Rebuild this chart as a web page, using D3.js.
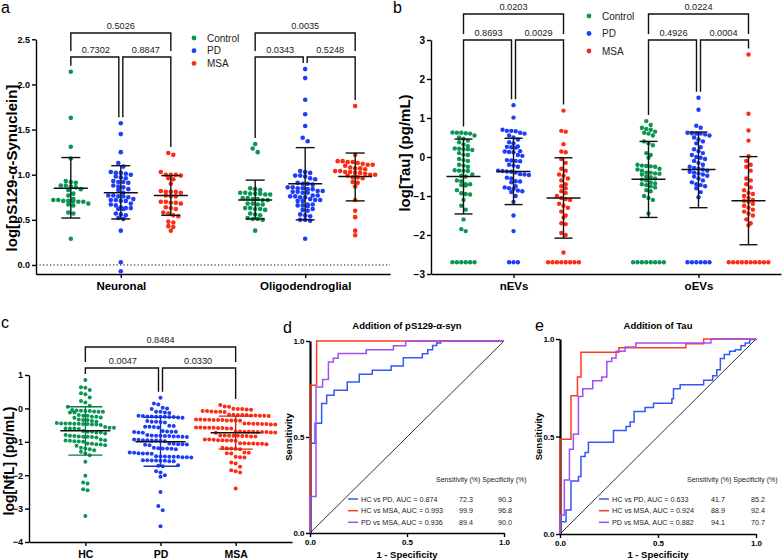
<!DOCTYPE html>
<html><head><meta charset="utf-8">
<script src="https://cdn.jsdelivr.net/npm/d3@7"></script>
<style>body{margin:0;background:#fff}svg{display:block}text{font-family:"Liberation Sans",Arial,Helvetica,sans-serif}</style>
</head><body><svg id="chart" width="784" height="560"></svg>
<script>
// ---------------- DATA ----------------
const groupNames = ["Control", "PD", "MSA"];
const groupColors = ["#0c9653", "#1d3df6", "#fd2c12"];

// Panel a: log[pS129-α-Synuclein]
const aCategories = ["Neuronal", "Oligodendroglial"];
const aNeuronalControl = [2.14,1.63,1.31,1.18,0.93,0.92,0.91,0.88,0.87,0.88,0.86,0.84,0.83,0.79,0.77,0.73,0.72,0.71,0.70,0.71,0.72,0.70,0.71,0.67,0.66,0.68,0.58,0.57,0.29];
const aNeuronalPD = [1.57,1.45,1.25,1.13,1.09,1.03,1.02,1.00,1.01,1.02,0.97,0.96,0.98,0.92,0.93,0.91,0.92,0.87,0.88,0.86,0.83,0.84,0.80,0.76,0.77,0.75,0.76,0.77,0.72,0.71,0.73,0.72,0.71,0.67,0.68,0.66,0.63,0.62,0.64,0.63,0.62,0.56,0.55,0.57,0.52,0.51,0.38,0.03,-0.07];
const aNeuronalMSA = [1.24,1.22,1.03,1.00,1.00,1.00,0.99,0.96,0.95,0.90,0.81,0.82,0.81,0.80,0.81,0.77,0.76,0.76,0.70,0.69,0.68,0.69,0.70,0.63,0.62,0.64,0.57,0.58,0.54,0.55,0.48,0.47,0.42,0.43,0.38];
const aOligoControl = [1.34,1.29,1.25,0.85,0.84,0.83,0.80,0.79,0.79,0.78,0.80,0.79,0.78,0.74,0.73,0.72,0.73,0.74,0.72,0.68,0.67,0.68,0.67,0.62,0.63,0.62,0.61,0.63,0.57,0.56,0.55,0.51,0.50,0.51,0.52,0.38];
const aOligoPD = [2.17,2.07,1.83,1.67,1.54,1.41,1.37,1.03,1.02,1.04,0.99,0.99,0.98,0.95,0.96,0.90,0.91,0.89,0.90,0.85,0.86,0.84,0.85,0.86,0.84,0.81,0.80,0.82,0.81,0.80,0.82,0.76,0.77,0.75,0.76,0.77,0.75,0.72,0.71,0.72,0.73,0.71,0.66,0.67,0.65,0.66,0.67,0.61,0.60,0.62,0.55,0.56,0.54,0.50,0.49,0.50,0.29];
const aOligoMSA = [1.76,1.22,1.15,1.14,1.14,1.13,1.15,1.11,1.10,1.12,1.11,1.07,1.06,1.08,1.07,1.03,1.04,1.02,1.03,1.04,1.02,1.00,0.99,1.00,1.01,0.97,0.96,0.97,0.92,0.91,0.87,0.72,0.60,0.53,0.38,0.33];
const aMean  = [[0.85,0.80,0.77],[0.72,0.90,0.98]];
const aUpper = [[1.19,1.10,0.99],[0.94,1.30,1.24]];
const aLower = [[0.52,0.51,0.55],[0.51,0.50,0.71]];
const aPValues = [["0.5026","0.7302","0.8847"],["0.0035","0.0343","0.5248"]];
const aTicks = [0,0.5,1,1.5,2,2.5];

// Panel b: log[Tau]
const bCategories = ["nEVs", "oEVs"];
const bNControl = [0.62,0.63,0.61,0.60,0.62,0.55,0.50,0.47,0.42,0.38,0.32,0.28,0.22,0.20,0.18,0.20,0.21,0.10,0.05,0.06,-0.05,-0.10,-0.08,-0.20,-0.22,-0.25,-0.35,-0.36,-0.34,-0.35,-0.45,-0.50,-0.48,-0.60,-0.62,-0.70,-0.72,-0.70,-0.73,-0.85,-0.95,-0.93,-0.96,-1.10,-1.25,-1.35,-1.60,-1.85,-1.90,-2.7,-2.7,-2.7,-2.7,-2.7,-2.7];
const bNPD = [1.33,1.01,0.70,0.67,0.66,0.67,0.60,0.62,0.55,0.50,0.45,0.38,0.35,0.27,0.25,0.26,0.24,0.15,0.13,0.14,0.12,0.05,0.03,-0.08,-0.10,-0.09,-0.11,-0.20,-0.25,-0.22,-0.35,-0.37,-0.38,-0.36,-0.40,-0.45,-0.46,-0.44,-0.55,-0.53,-0.62,-0.65,-0.63,-0.75,-0.80,-0.82,-0.78,-0.88,-0.86,-0.90,-1.00,-1.15,-1.50,-1.90,-2.7,-2.7,-2.7];
const bNMSA = [1.19,0.67,0.65,0.33,0.14,0.12,-0.05,-0.15,-0.30,-0.35,-0.45,-0.48,-0.55,-0.60,-0.70,-0.75,-0.80,-0.88,-0.92,-1.00,-1.05,-1.08,-1.10,-1.20,-1.25,-1.30,-1.40,-1.50,-1.55,-1.70,-1.72,-1.95,-2.00,-2.45,-2.7,-2.7,-2.7,-2.7,-2.7,-2.7,-2.7,-2.7];
const bOControl = [0.92,0.82,0.75,0.72,0.70,0.65,0.62,0.60,0.55,0.40,0.35,0.30,0.10,0.05,-0.02,-0.20,-0.22,-0.25,-0.24,-0.23,-0.30,-0.32,-0.35,-0.40,-0.42,-0.40,-0.45,-0.43,-0.50,-0.52,-0.55,-0.58,-0.60,-0.65,-0.68,-0.70,-0.72,-0.75,-0.78,-0.85,-0.88,-1.00,-1.05,-1.10,-1.45,-2.7,-2.7,-2.7,-2.7,-2.7,-2.7,-2.7,-2.7];
const bOPD = [1.52,1.21,0.80,0.75,0.62,0.60,0.61,0.60,0.58,0.55,0.50,0.45,0.40,0.35,0.25,0.20,0.15,0.10,0.05,0.00,-0.02,-0.05,-0.10,-0.15,-0.20,-0.25,-0.28,-0.30,-0.32,-0.35,-0.38,-0.40,-0.42,-0.45,-0.48,-0.50,-0.55,-0.60,-0.65,-0.70,-0.72,-0.75,-0.80,-0.90,-1.03,-2.7,-2.7,-2.7,-2.7,-2.7,-2.7];
const bOMSA = [2.63,1.11,0.68,0.42,0.02,-0.10,-0.20,-0.25,-0.35,-0.55,-0.60,-0.70,-0.78,-0.85,-0.92,-0.95,-1.00,-1.05,-1.10,-1.12,-1.15,-1.20,-1.25,-1.30,-1.35,-1.40,-1.45,-1.50,-1.60,-1.70,-1.75,-2.7,-2.7,-2.7,-2.7,-2.7,-2.7,-2.7,-2.7,-2.7,-2.7];
const bMean  = [[-0.50,-0.37,-1.05],[-0.57,-0.32,-1.12]];
const bUpper = [[0.46,0.48,-0.02],[0.40,0.64,0.01]];
const bLower = [[-1.46,-1.22,-2.08],[-1.55,-1.30,-2.25]];
const bPValues = [["0.0203","0.8693","0.0029"],["0.0224","0.4926","0.0004"]];
const bTicks = [-3,-2,-1,0,1,2,3];

// Panel c: log[NfL]
const cCategories = ["HC", "PD", "MSA"];
const cHC = [0.85,0.63,0.62,0.55,0.45,0.42,0.33,0.22,0.18,0.08,0.05,
  -0.05,-0.06,-0.08,-0.08,-0.10,-0.10,-0.12,-0.12,-0.07,-0.09,
  -0.20,-0.22,-0.22,-0.25,-0.25,-0.27,-0.28,
  -0.33,-0.35,-0.35,-0.38,-0.40,
  -0.44,-0.45,-0.45,-0.46,-0.47,-0.48,-0.48,-0.50,-0.45,-0.46,-0.47,
  -0.56,-0.58,-0.60,-0.60,-0.62,-0.58,-0.60,
  -0.68,-0.70,-0.72,-0.72,-0.75,-0.70,
  -0.80,-0.82,-0.84,-0.85,-0.86,-0.83,-0.87,-0.85,
  -0.93,-0.95,-0.97,-1.00,-0.98,-0.96,-0.99,
  -1.05,-1.07,-1.10,-1.08,-1.12,-1.06,
  -1.18,-1.20,-1.22,-1.25,
  -1.30,-1.35,-1.40,-1.60,-2.02,-2.22,-2.25,-2.42,-2.45,-3.22];
const cPD = [0.32,0.15,0.12,0.02,0.00,-0.02,-0.10,-0.12,-0.10,-0.14,
  -0.22,-0.24,-0.25,-0.25,-0.26,-0.27,-0.23,-0.28,-0.25,-0.24,-0.26,
  -0.38,-0.40,-0.42,-0.40,-0.41,
  -0.52,-0.55,-0.55,-0.57,-0.53,-0.56,
  -0.68,-0.70,-0.70,-0.72,-0.69,-0.71,-0.73,
  -0.80,-0.82,-0.83,-0.83,-0.84,-0.85,-0.81,-0.86,-0.82,-0.84,
  -0.93,-0.95,-0.96,-0.97,-0.94,-0.98,-0.95,-0.96,
  -1.05,-1.07,-1.08,-1.06,-1.09,-1.07,-1.10,
  -1.18,-1.20,-1.21,-1.22,-1.19,-1.20,
  -1.32,-1.34,-1.35,-1.36,-1.33,-1.35,
  -1.43,-1.45,-1.46,-1.45,-1.44,-1.47,-1.45,-1.46,-1.44,
  -1.55,-1.56,-1.57,-1.58,-1.55,-1.57,-1.56,-1.58,
  -1.70,-1.72,-1.73,-1.88,-1.92,-2.00,-2.05,-2.50,-2.92,-3.05,-3.53];
const cMSA = [0.10,0.05,0.06,-0.02,-0.03,-0.01,-0.04,-0.02,
  -0.08,-0.10,-0.09,-0.11,-0.08,-0.10,
  -0.19,-0.20,-0.21,-0.22,-0.20,-0.19,-0.21,-0.23,-0.20,-0.22,
  -0.33,-0.35,-0.36,-0.34,-0.35,-0.37,-0.33,-0.36,-0.34,-0.35,-0.36,
  -0.45,-0.47,-0.46,-0.48,-0.45,-0.47,-0.46,-0.48,
  -0.57,-0.58,-0.60,-0.59,-0.58,-0.60,-0.57,-0.59,-0.58,
  -0.69,-0.70,-0.71,-0.72,-0.70,-0.69,-0.71,-0.72,-0.70,-0.71,-0.73,
  -0.81,-0.82,-0.83,-0.84,-0.82,-0.81,-0.83,-0.84,-0.82,
  -0.93,-0.95,-0.96,-0.94,-0.95,-0.97,-0.93,-0.96,
  -1.04,-1.05,-1.06,-1.07,-1.05,-1.06,-1.04,
  -1.18,-1.20,-1.21,-1.19,-1.22,
  -1.32,-1.33,-1.35,-1.34,-1.45,-1.47,-1.46,
  -1.62,-1.65,-1.75,-1.85,-1.88,-1.92,-2.40];
const cMean  = [-0.67,-1.00,-0.73];
const cUpper = [0.05,-0.27,-0.23];
const cLower = [-1.40,-1.73,-1.22];
const cPValues = ["0.8484","0.0047","0.0330"];
const cTicks = [-4,-3,-2,-1,0,1];

// Panels d & e: ROC operating points [1 - specificity, sensitivity]
const rocNames = ["HC vs PD", "HC vs MSA", "PD vs MSA"];
const rocColors = ["#3557f5", "#ff3a22", "#a24ff2"];
const dAUC = ["0.874","0.993","0.936"];
const dSens = ["72.3","99.9","89.4"];
const dSpec = ["90.3","96.8","90.0"];
const dHCvsPD = [[0,0],[0,0.467],[0.026,0.571],[0.06,0.675],[0.086,0.718],[0.124,0.744],[0.192,0.787],[0.254,0.827],[0.321,0.848],[0.418,0.87],[0.481,0.913],[0.579,0.934],[0.607,0.955],[0.632,0.976],[0.653,0.99],[0.674,1],[1,1]];
const dHCvsMSA = [[0,0],[0,0.77],[0.034,1],[1,1]];
const dPDvsMSA = [[0,0],[0,0.19],[0.031,0.76],[0.065,0.8],[0.095,0.89],[0.12,0.91],[0.145,0.935],[0.29,0.955],[0.43,0.975],[0.493,1],[1,1]];
const eAUC = ["0.633","0.924","0.882"];
const eSens = ["41.7","88.9","94.1"];
const eSpec = ["85.2","92.4","70.7"];
const eHCvsPD = [[0,0],[0,0.063],[0.031,0.123],[0.056,0.272],[0.094,0.295],[0.107,0.397],[0.128,0.418],[0.145,0.47],[0.273,0.531],[0.337,0.551],[0.358,0.574],[0.378,0.628],[0.434,0.649],[0.477,0.671],[0.571,0.693],[0.579,0.745],[0.613,0.765],[0.733,0.788],[0.779,0.812],[0.8,0.842],[0.818,0.9],[0.838,0.92],[0.865,0.937],[0.894,0.945],[0.923,0.966],[0.945,0.979],[0.968,0.997],[1,1]];
const eHCvsMSA = [[0,0],[0,0.486],[0.056,0.709],[0.089,0.805],[0.107,0.932],[0.3,0.955],[0.642,0.976],[0.733,1],[1,1]];
const ePDvsMSA = [[0,0],[0,0.098],[0.022,0.277],[0.048,0.435],[0.068,0.512],[0.094,0.705],[0.116,0.745],[0.167,0.786],[0.213,0.805],[0.239,0.885],[0.264,0.902],[0.286,0.937],[0.332,0.959],[0.387,0.979],[0.77,1],[1,1]];

// ---------------- DRAWING ----------------
const svg = d3.select("#chart");
svg.append("rect").attr("width",784).attr("height",560).attr("fill","#fff");

function rowLayout(values, y, binH, spacing) {
  const sorted = values.slice().sort((a,b)=>b-a);
  const rows = []; let cur = null;
  sorted.forEach(v => {
    const yy = y(v);
    if (!cur || yy - cur.y0 > binH) { cur = {y0: yy, items: []}; rows.push(cur); }
    cur.items.push(yy);
  });
  const pts = [];
  rows.forEach(r => { const n = r.items.length; r.items.forEach((yy,i) => pts.push({dx: (i-(n-1)/2)*spacing, y: yy})); });
  return pts;
}

function styleAxis(sel, size, bold) {
  sel.selectAll("path,line").attr("stroke","#000").attr("stroke-width",1.4);
  sel.selectAll("text").attr("fill","#000").attr("font-size",size).attr("font-weight",bold?"bold":"normal")
     .attr("font-family",'"Liberation Sans",Arial,sans-serif');
}

function panelLetter(t, x, y) {
  svg.append("text").attr("x",x).attr("y",y).attr("font-size",16).attr("fill","#000").text(t);
}

function scatterPanel(o) {
  const g = svg.append("g");
  const y = d3.scaleLinear().domain(o.yDomain).range([o.yBottom, o.yTop]);
  const x = d3.scalePoint().domain(o.categories).range([o.xLeft, o.xRight]).padding(o.pad);
  const off = d3.scalePoint().domain(groupNames).range([-o.groupOffset, o.groupOffset]);
  if (o.zeroLine) g.append("line").attr("x1",o.xLeft).attr("x2",o.xRight).attr("y1",y(0)).attr("y2",y(0))
      .attr("stroke","#000").attr("stroke-width",1).attr("stroke-dasharray","1.2,2.3");
  const ya = g.append("g").attr("transform",`translate(${o.xLeft},0)`)
    .call(d3.axisLeft(y).tickValues(o.yTicks).tickFormat(d3.format(o.fmt)).tickSize(4).tickPadding(2).tickSizeOuter(0));
  styleAxis(ya, o.tickFont, true);
  const xa = g.append("g").attr("transform",`translate(0,${o.yBottom})`)
    .call(d3.axisBottom(x).tickSize(4).tickPadding(o.xPad).tickSizeOuter(0));
  styleAxis(xa, o.catFont, true);
  g.append("text").attr("transform",`translate(${o.yLabelX},${o.yLabelY}) rotate(-90)`)
    .attr("text-anchor","middle").attr("dominant-baseline","central").attr("font-size",o.yLabelFont).attr("font-weight","bold").text(o.yLabel);
  const centers = [];
  o.series.forEach((s,i) => {
    const cx = x(s.cat) + (s.group !== null ? off(s.group) : 0);
    centers.push({cx, max: d3.max(s.values)});
    const pts = rowLayout(s.values, y, o.binH, o.spacing);
    g.append("g").selectAll("circle").data(pts).join("circle")
      .attr("cx", d => cx + d.dx).attr("cy", d => d.y).attr("r", o.r).attr("fill", s.color);
  });
  o.series.forEach((s,i) => {
    const cx = centers[i].cx;
    const bc = o.barColored ? d3.color(s.color).darker(0.6).toString() : "#111";
    g.append("line").attr("x1",cx).attr("x2",cx).attr("y1",y(s.upper)).attr("y2",y(s.lower)).attr("stroke",bc).attr("stroke-width",1.4);
    [s.upper, s.lower].forEach(v => g.append("line").attr("x1",cx-o.capHalf).attr("x2",cx+o.capHalf).attr("y1",y(v)).attr("y2",y(v)).attr("stroke",bc).attr("stroke-width",1.4));
    g.append("line").attr("x1",cx-o.meanHalf).attr("x2",cx+o.meanHalf).attr("y1",y(s.mean)).attr("y2",y(s.mean)).attr("stroke","#111").attr("stroke-width",1.6);
  });
  o.brackets.forEach(b => {
    const c = b.members.map(i => centers[i]);
    const legEnd = c.map(d => y(d.max) - 6);
    const bpath = (x1, x2, l1, l2, yy) => g.append("path").attr("d",`M${x1},${l1}V${yy}H${x2}V${l2}`)
      .attr("fill","none").attr("stroke","#111").attr("stroke-width",1.4);
    const lab = (xx, yy, t) => g.append("text").attr("x",xx).attr("y",yy - 4).attr("text-anchor","middle")
      .attr("font-size",9.2).attr("fill","#222").text(t);
    bpath(c[0].cx, c[2].cx, o.lowY - 6, o.lowY - 6, o.topY);
    lab((c[0].cx + c[2].cx)/2, o.topY, b.labels[0]);
    bpath(c[0].cx, c[1].cx - 2, legEnd[0], legEnd[1], o.lowY);
    lab((c[0].cx + c[1].cx)/2, o.lowY, b.labels[1]);
    bpath(c[1].cx + 2, c[2].cx, legEnd[1], legEnd[2], o.lowY);
    lab((c[1].cx + c[2].cx)/2, o.lowY, b.labels[2]);
  });
  if (o.legend) {
    groupNames.forEach((n,i) => {
      g.append("circle").attr("cx",o.legend.x).attr("cy",o.legend.y + i*o.legend.dy).attr("r",2.4).attr("fill",groupColors[i]);
      g.append("text").attr("x",o.legend.x + 13).attr("y",o.legend.y + i*o.legend.dy).attr("dominant-baseline","central")
        .attr("font-size",10).attr("fill","#222").text(n);
    });
  }
}

// Panel a
const aData = [[aNeuronalControl,aNeuronalPD,aNeuronalMSA],[aOligoControl,aOligoPD,aOligoMSA]];
const aSeries = [];
aCategories.forEach((c,ci) => groupNames.forEach((gname,gi) => aSeries.push({cat:c, group:gname, values:aData[ci][gi], color:groupColors[gi], mean:aMean[ci][gi], upper:aUpper[ci][gi], lower:aLower[ci][gi]})));
scatterPanel({yDomain:[-0.1,2.5], yBottom:274, yTop:39.3, xLeft:36, xRight:390, pad:0.46, groupOffset:50,
  categories:aCategories, yTicks:aTicks, fmt:".1f", tickFont:9, catFont:11.5, xPad:4, zeroLine:true,
  yLabel:"log[pS129-α-Synuclein]", yLabelX:11, yLabelY:168, yLabelFont:15, series:aSeries, r:2.3, binH:4.5, spacing:5,
  capHalf:9.5, meanHalf:17, barColored:false, topY:33, lowY:57,
  brackets:[{members:[0,1,2], labels:aPValues[0]},{members:[3,4,5], labels:aPValues[1]}],
  legend:{x:194, y:38, dy:12.7}});
panelLetter("a", 1, 12.5);

// Panel b
const bData = [[bNControl,bNPD,bNMSA],[bOControl,bOPD,bOMSA]];
const bSeries = [];
bCategories.forEach((c,ci) => groupNames.forEach((gname,gi) => bSeries.push({cat:c, group:gname, values:bData[ci][gi], color:groupColors[gi], mean:bMean[ci][gi], upper:bUpper[ci][gi], lower:bLower[ci][gi]})));
scatterPanel({yDomain:[-3,3], yBottom:274, yTop:40, xLeft:431, xRight:781, pad:0.446, groupOffset:50,
  categories:bCategories, yTicks:bTicks, fmt:"d", tickFont:10, catFont:11.5, xPad:4, zeroLine:false,
  yLabel:"log[Tau] (pg/mL)", yLabelX:404, yLabelY:153, yLabelFont:15, series:bSeries, r:2.2, binH:4.5, spacing:4.4,
  capHalf:9, meanHalf:17, barColored:false, topY:14, lowY:40,
  brackets:[{members:[0,1,2], labels:bPValues[0]},{members:[3,4,5], labels:bPValues[1]}],
  legend:{x:589, y:16, dy:17.5}});
panelLetter("b", 393, 13);

// Panel c
const cData = [cHC, cPD, cMSA];
const cSeries = cCategories.map((c,i) => ({cat:c, group:null, values:cData[i], color:groupColors[i], mean:cMean[i], upper:cUpper[i], lower:cLower[i]}));
scatterPanel({yDomain:[-4,1], yBottom:542, yTop:375, xLeft:29, xRight:292, pad:0.75, groupOffset:0,
  categories:cCategories, yTicks:cTicks, fmt:"d", tickFont:9, catFont:10.5, xPad:5, zeroLine:false,
  yLabel:"log[NfL] (pg/mL)", yLabelX:9, yLabelY:461, yLabelFont:14, series:cSeries, r:2, binH:5.2, spacing:4.4,
  capHalf:17, meanHalf:25, barColored:true, topY:347, lowY:368,
  brackets:[{members:[0,1,2], labels:cPValues}], legend:null});
panelLetter("c", 1, 328);

// ROC panels
function rocPanel(o) {
  const g = svg.append("g");
  const x = d3.scaleLinear().domain([0,1]).range([o.x0, o.x1]);
  const y = d3.scaleLinear().domain([0,1]).range([o.y0, o.y1]);
  const ya = g.append("g").attr("transform",`translate(${o.x0},0)`)
    .call(d3.axisLeft(y).tickValues([0,0.5,1]).tickFormat(d3.format(".1f")).tickSize(4).tickPadding(1.5).tickSizeOuter(0));
  styleAxis(ya, 8, true);
  ya.select(".domain").attr("stroke-width",2.2);
  const xa = g.append("g").attr("transform",`translate(0,${o.y0})`)
    .call(d3.axisBottom(x).tickValues([0,0.5,1]).tickFormat(d3.format(".1f")).tickSize(4).tickPadding(2).tickSizeOuter(0));
  styleAxis(xa, 8, true);
  g.append("line").attr("x1",x(0)).attr("y1",y(0)).attr("x2",x(1)).attr("y2",y(1)).attr("stroke","#000").attr("stroke-width",0.8);
  const line = d3.line().x(d => x(d[0])).y(d => y(d[1])).curve(d3.curveStepAfter);
  o.curves.forEach((c,i) => g.append("path").attr("d", line(c)).attr("fill","none").attr("stroke", rocColors[i]).attr("stroke-width",1.5));
  g.append("text").attr("x",(o.x0+o.x1)/2).attr("y",329).attr("text-anchor","middle").attr("font-size",9.5).attr("font-weight","bold").text(o.title);
  g.append("text").attr("transform",`translate(${o.x0-22},${(o.y0+o.y1)/2}) rotate(-90)`).attr("text-anchor","middle")
    .attr("dominant-baseline","central").attr("font-size",9.5).attr("font-weight","bold").text("Sensitivity");
  g.append("text").attr("x",(o.x0+o.x1)/2).attr("y",558).attr("text-anchor","middle").attr("font-size",9.5).attr("font-weight","bold").text("1 - Specificity");
  g.append("text").attr("x",o.hx).attr("y",481.5).attr("font-size",7).attr("fill","#222").text("Sensitivity (%) Specificity (%)");
  const rowsY = [499, 510.7, 522.3];
  rocNames.forEach((n,i) => {
    g.append("line").attr("x1",o.lx).attr("x2",o.lx+10).attr("y1",rowsY[i]).attr("y2",rowsY[i]).attr("stroke",rocColors[i]).attr("stroke-width",1.5);
    const t = (xx, s) => g.append("text").attr("x",xx).attr("y",rowsY[i]).attr("dominant-baseline","central").attr("font-size",7.2).attr("fill","#222").text(s);
    t(o.lx+13, `${n}, AUC = ${o.auc[i]}`);
    t(o.sx, o.sens[i]);
    t(o.px, o.spec[i]);
  });
}
rocPanel({x0:310, x1:504, y0:533, y1:341, title:"Addition of pS129-α-syn", curves:[dHCvsPD,dHCvsMSA,dPDvsMSA],
  auc:dAUC, sens:dSens, spec:dSpec, hx:436, lx:348, sx:459, px:498});
panelLetter("d", 283, 333);
rocPanel({x0:560, x1:756, y0:534, y1:339, title:"Addition of Tau", curves:[eHCvsPD,eHCvsMSA,ePDvsMSA],
  auc:eAUC, sens:eSens, spec:eSpec, hx:687, lx:599, sx:711, px:751});
panelLetter("e", 535, 331);
</script></body></html>
